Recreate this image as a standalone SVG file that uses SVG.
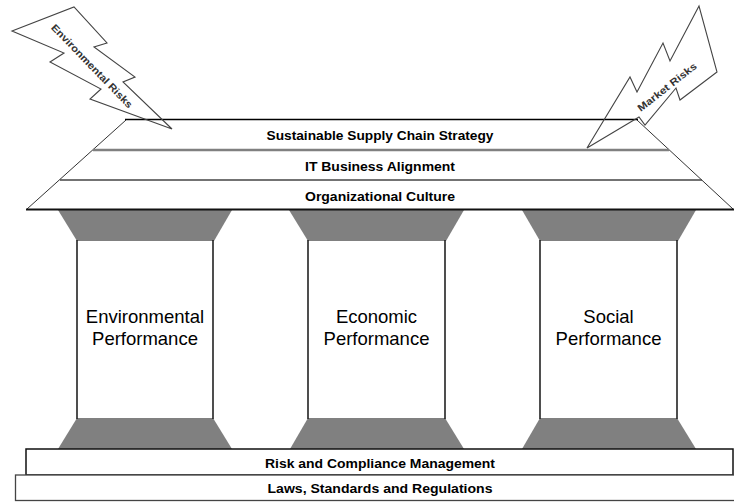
<svg xmlns="http://www.w3.org/2000/svg" width="734" height="502" viewBox="0 0 734 502">
<style>
.t{font-family:"Liberation Sans",Arial,sans-serif;font-weight:bold;font-size:13px;fill:#000;text-anchor:middle}
.p{font-family:"Liberation Sans",Arial,sans-serif;font-size:18.5px;fill:#000;text-anchor:middle}
.cap{fill:#808080}
.shaft{stroke:#222;stroke-width:1.6;fill:none}
.bolt{fill:none;stroke:#444;stroke-width:1.1;stroke-linejoin:miter}
.bt{font-family:"Liberation Sans",Arial,sans-serif;font-weight:bold;font-size:10px;fill:#333;text-anchor:middle}
</style>
<rect width="734" height="502" fill="#fff"/>
<g id="pillar-environmental">
<polygon class="cap" points="58,210 232,210 214,241 77,241"/>
<polygon class="cap" points="77,418 213,418 232,449 58,449"/>
<line class="shaft" x1="77" y1="240" x2="77" y2="419"/>
<line class="shaft" x1="213" y1="240" x2="213" y2="419"/>
<text class="p" x="145" y="323">Environmental</text>
<text class="p" x="145" y="345">Performance</text>
</g>
<g id="pillar-economic">
<polygon class="cap" points="289,210 464,210 446,241 308,241"/>
<polygon class="cap" points="308,418 445,418 464,449 290,449"/>
<line class="shaft" x1="308" y1="240" x2="308" y2="419"/>
<line class="shaft" x1="445" y1="240" x2="445" y2="419"/>
<text class="p" x="376.5" y="323">Economic</text>
<text class="p" x="376.5" y="345">Performance</text>
</g>
<g id="pillar-social">
<polygon class="cap" points="522,210 696,210 678,241 540,241"/>
<polygon class="cap" points="540,418 677,418 696,449 522,449"/>
<line class="shaft" x1="540" y1="240" x2="540" y2="419"/>
<line class="shaft" x1="677" y1="240" x2="677" y2="419"/>
<text class="p" x="608.5" y="323">Social</text>
<text class="p" x="608.5" y="345">Performance</text>
</g>
<g id="roof">
<polygon points="27,209 126,120 637,120 733,209" fill="#fff" stroke="none"/>
<line x1="27" y1="209" x2="126" y2="120" stroke="#333" stroke-width="1"/>
<line x1="637" y1="120" x2="733" y2="209" stroke="#333" stroke-width="1"/>
<line x1="125" y1="119.5" x2="638" y2="119.5" stroke="#000" stroke-width="1.6"/>
<line x1="93" y1="150" x2="669" y2="150" stroke="#808080" stroke-width="2.5"/>
<line x1="60" y1="180" x2="702" y2="180" stroke="#444" stroke-width="1.5"/>
<line x1="26" y1="209.5" x2="734" y2="209.5" stroke="#111" stroke-width="1.8"/>
<text class="t" x="380" y="140" textLength="227" lengthAdjust="spacingAndGlyphs">Sustainable Supply Chain Strategy</text>
<text class="t" x="380" y="171" textLength="150" lengthAdjust="spacingAndGlyphs">IT Business Alignment</text>
<text class="t" x="380" y="201" textLength="150" lengthAdjust="spacingAndGlyphs">Organizational Culture</text>
</g>
<g id="risk-compliance">
<rect x="26" y="449" width="707" height="26" fill="#fff" stroke="#111" stroke-width="1.5"/>
<text class="t" x="380" y="467.5" textLength="230" lengthAdjust="spacingAndGlyphs">Risk and Compliance Management</text>
</g>
<g id="laws">
<rect x="15.5" y="475" width="720" height="25.5" fill="#fff" stroke="#444" stroke-width="1.3"/>
<text class="t" x="380" y="493" textLength="225" lengthAdjust="spacingAndGlyphs">Laws, Standards and Regulations</text>
</g>
<g id="environmental-risks">
<polygon class="bolt" points="12,31 74,7 107,43 94,47 135,77 123,82 172,129 90,99 101,89 50,62 64,53"/>
<text class="bt" transform="translate(92,66) rotate(46)" y="3.5" textLength="112" lengthAdjust="spacingAndGlyphs">Environmental Risks</text>
</g>
<g id="market-risks">
<polygon class="bolt" points="587,148 630,77 637,92 663,43 670,61 699,6 717,72 680,100 676,88 645,125 639,117"/>
<text class="bt" transform="translate(667,87) rotate(-38)" y="3.5" textLength="72" lengthAdjust="spacingAndGlyphs">Market Risks</text>
</g>
</svg>
